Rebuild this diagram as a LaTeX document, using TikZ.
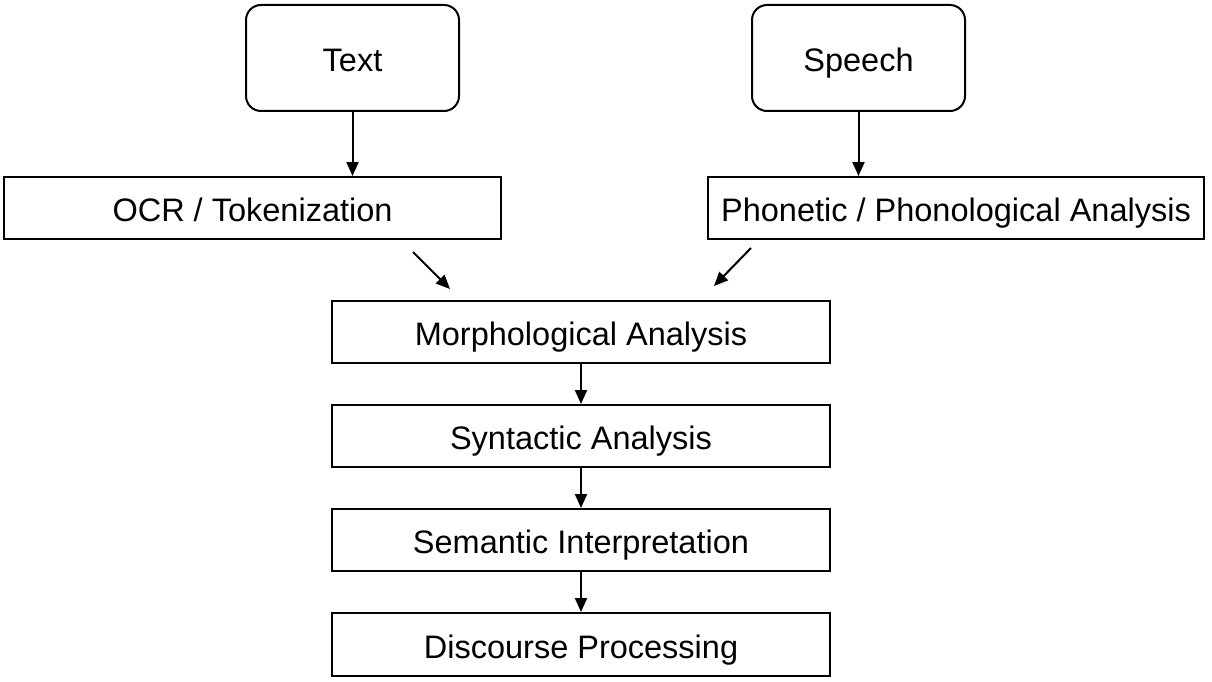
\documentclass[tikz,border=0pt]{standalone}
\usepackage{fontspec}
\setmainfont{Liberation Sans}
\usetikzlibrary{arrows.meta}
\begin{document}
\begin{tikzpicture}[x=1pt,y=-1pt,
  box/.style={draw,line width=2pt,minimum height=62pt,inner sep=0pt,text height=27.5pt,text depth=0pt,font=\fontsize{32.5}{38}\selectfont},
  rbox/.style={box,rounded corners=15pt,minimum width=213pt,minimum height=106pt},
  wbox/.style={box,minimum width=497pt},
  arr/.style={line width=2pt,-{Triangle[length=14pt,width=12pt]}}]
\useasboundingbox (0,0) rectangle (1212,682);
\node[rbox] (text) at (352.5,58) {Text};
\node[rbox] (speech) at (858.5,58) {Speech};
\node[wbox] (ocr) at (252.5,208) {OCR / Tokenization};
\node[wbox,minimum width=496pt] (phon) at (956,208) {Phonetic / Phonological Analysis};
\node[wbox,minimum width=498pt] (morph) at (581,331.5) {Morphological Analysis};
\node[wbox,minimum width=498pt] (syn) at (581,436) {Syntactic Analysis};
\node[wbox,minimum width=498pt] (sem) at (581,540) {Semantic Interpretation};
\node[wbox,minimum width=498pt,minimum height=63pt] (disc) at (581,644.5) {Discourse Processing};
\coordinate (l1) at (413,252);
\coordinate (l2) at (450,289);
\coordinate (r1) at (751,248);
\coordinate (r2) at (714,286);
\draw[arr] (text) -- (ocr.north -| text);
\draw[arr] (speech) -- (phon.north -| speech);
\draw[arr] (l1) -- (l2);
\draw[arr] (r1) -- (r2);
\draw[arr] (morph) -- (syn);
\draw[arr] (syn) -- (sem);
\draw[arr] (sem) -- (disc);
\end{tikzpicture}
\end{document}
